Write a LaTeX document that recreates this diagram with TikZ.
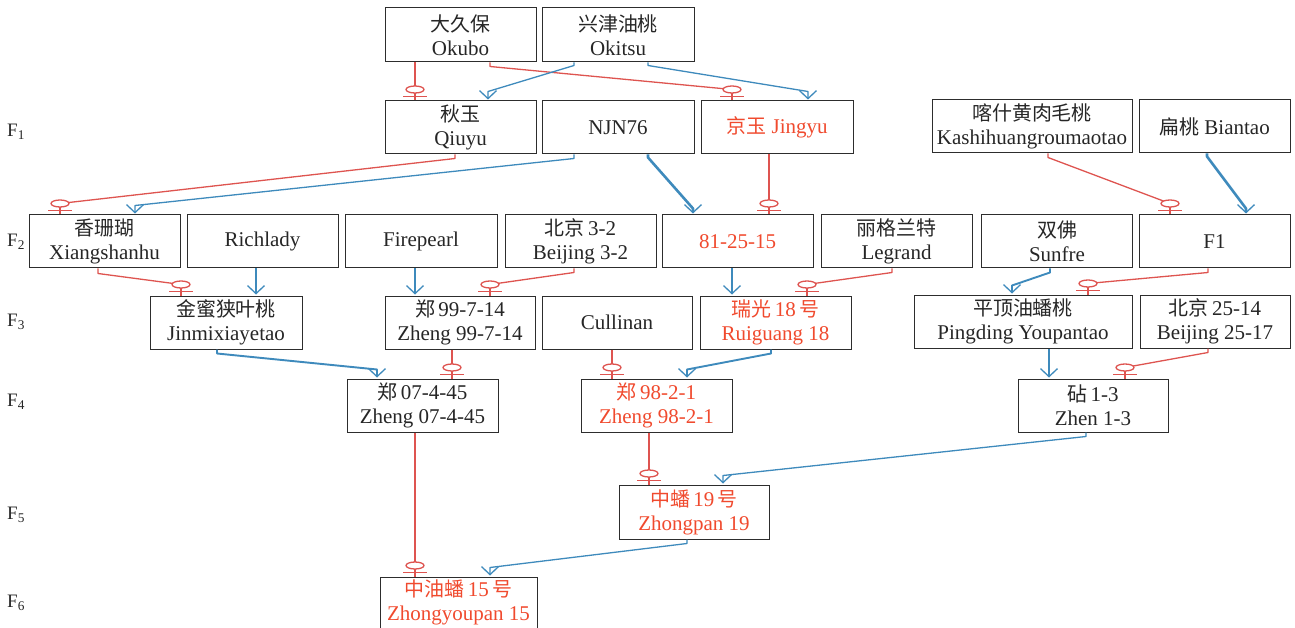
\documentclass[tikz,border=0pt]{standalone}
\usepackage{fontspec}
\setmainfont{Liberation Serif}
\newfontfamily\cjk[Scale=0.95]{Noto Sans CJK SC}
\usetikzlibrary{arrows.meta,calc}
\definecolor{lred}{RGB}{222,84,80}
\definecolor{tred}{RGB}{240,74,46}
\definecolor{lblue}{RGB}{62,138,188}
\definecolor{boxc}{RGB}{45,45,45}
\tikzset{
  box/.style={draw=boxc,line width=1pt,inner sep=0pt,align=center,text=black!85,
    minimum width=151pt,minimum height=53pt,font=\fontsize{21}{24}\selectfont},
  redtxt/.style={text=tred},
  rthick/.style={draw=lred,line width=2.6pt},
  rthin/.style={draw=lred,line width=1.3pt,line join=round},
  bthick/.style={draw=lblue,line width=2.6pt,line join=round},
  bmid/.style={draw=lblue,line width=1.9pt,line join=round},
  bthin/.style={draw=lblue,line width=1.3pt,line join=round},
  male/.style={-{Straight Barb[length=8pt,width=17pt,line width=1.3pt]}},
  glabel/.style={anchor=west,inner sep=0pt,text=black!85,font=\fontsize{19}{22}\selectfont}
}
\newcommand\fem[2]{%
  \coordinate (ft) at (#1,0 |- #2.north);
  \draw[rthin,fill=white] ($(ft)+(0,-11)$) ellipse [x radius=9pt,y radius=3.5pt];
  \draw[rthin] ($(ft)+(0,-7.5)$) -- (ft);
  \draw[draw=lred,line width=0.8pt] ($(ft)+(-12,-4)$) -- ($(ft)+(12,-4)$);
}
\begin{document}
\begin{tikzpicture}[x=1pt,y=-1pt]
\useasboundingbox (0,0) rectangle (1295,628);
% generation labels
\node[glabel] (lf1) at (7,132) {F\textsubscript{1}};
\node[glabel] (lf2) at (7,242) {F\textsubscript{2}};
\node[glabel] (lf3) at (7,322) {F\textsubscript{3}};
\node[glabel] (lf4) at (7,402) {F\textsubscript{4}};
\node[glabel] (lf5) at (7,515) {F\textsubscript{5}};
\node[glabel] (lf6) at (7,603) {F\textsubscript{6}};
% row 0
\node[box,minimum height=54pt] (okubo) at (460.5,35) {{\cjk 大久保}\\Okubo};
\node[box,minimum height=54pt,minimum width=152pt] (okitsu) at (618,35) {{\cjk 兴津油桃}\\Okitsu};
% F1
\node[box] (qiuyu) at (460.5,127.5) {{\cjk 秋玉}\\Qiuyu};
\node[box,minimum width=152pt] (njn) at (618,127.5) {NJN76};
\node[box,redtxt,minimum width=152pt] (jingyu) at (777,127.5) {{\cjk 京玉} Jingyu};
\node[box,minimum width=200pt] (kashi) at (1032,126.5) {{\cjk 喀什黄肉毛桃}\\Kashihuangroumaotao};
\node[box] (biantao) at (1214.5,126.5) {{\cjk 扁桃} Biantao};
% F2
\node[box] (xiang) at (104.5,241.5) {{\cjk 香珊瑚}\\Xiangshanhu};
\node[box] (rich) at (262.5,241.5) {Richlady};
\node[box,minimum width=152pt] (fire) at (421,241.5) {Firepearl};
\node[box] (bj32) at (580.5,241.5) {{\cjk 北京}\,3-2\\Beijing 3-2};
\node[box,redtxt] (s812515) at (737.5,241.5) {81-25-15};
\node[box] (legrand) at (896.5,241.5) {{\cjk 丽格兰特}\\Legrand};
\node[box] (sunfre) at (1057,241.5) {{\cjk 双佛}\\Sunfre};
\node[box] (f1) at (1214.5,241.5) {F1};
% F3
\node[box,minimum width=152pt] (jinmi) at (226,322.5) {{\cjk 金蜜狭叶桃}\\Jinmixiayetao};
\node[box,minimum width=150pt] (zheng99) at (460,322.5) {{\cjk 郑}\,99-7-14\\Zheng 99-7-14};
\node[box,minimum width=150pt] (cullinan) at (617,322.5) {Cullinan};
\node[box,redtxt] (ruiguang) at (775.5,322.5) {{\cjk 瑞光}\,18\,{\cjk 号}\\Ruiguang 18};
\node[box,minimum width=218pt] (pingding) at (1023,321.5) {{\cjk 平顶油蟠桃}\\Pingding Youpantao};
\node[box,minimum width=150pt] (bj2514) at (1215,321.5) {{\cjk 北京}\,25-14\\Beijing 25-17};
% F4
\node[box] (zheng07) at (422.5,405.5) {{\cjk 郑}\,07-4-45\\Zheng 07-4-45};
\node[box,redtxt] (zheng98) at (656.5,405.5) {{\cjk 郑}\,98-2-1\\Zheng 98-2-1};
\node[box,minimum width=150pt] (zhen13) at (1093,405.5) {{\cjk 砧}\,1-3\\Zhen 1-3};
% F5
\node[box,redtxt,minimum width=150pt,minimum height=54pt] (zhongpan) at (694,512) {{\cjk 中蟠}\,19\,{\cjk 号}\\Zhongpan 19};
% F6
\node[box,redtxt,minimum width=157pt,minimum height=51pt] (zhongyou) at (458.5,602.5) {{\cjk 中油蟠}\,15\,{\cjk 号}\\Zhongyoupan 15};

% ---- maternal (red) connectors
\draw[rthick] (415,0 |- okubo.south) -- (415,0 |- qiuyu.north); \fem{415}{qiuyu}
\draw[rthin] (490,0 |- okubo.south) -- ++(0,4) -- ($(732,0 |- jingyu.north)+(0,-11)$); \fem{732}{jingyu}
\draw[rthin] (455,0 |- qiuyu.south) -- ++(0,4) -- ($(60,0 |- xiang.north)+(0,-11)$); \fem{60}{xiang}
\draw[rthick] (769,0 |- jingyu.south) -- (769,0 |- s812515.north); \fem{769}{s812515}
\draw[rthin] (1048,0 |- kashi.south) -- ++(0,4) -- ($(1170,0 |- f1.north)+(0,-11)$); \fem{1170}{f1}
\draw[rthin] (98,0 |- xiang.south) -- ++(0,5) -- ($(181,0 |- jinmi.north)+(0,-11)$); \fem{181}{jinmi}
\draw[rthin] (574,0 |- bj32.south) -- ++(0,4) -- ($(490,0 |- zheng99.north)+(0,-11)$); \fem{490}{zheng99}
\draw[rthin] (892,0 |- legrand.south) -- ++(0,4) -- ($(807,0 |- ruiguang.north)+(0,-11)$); \fem{807}{ruiguang}
\draw[rthin] (1208,0 |- f1.south) -- ++(0,4) -- ($(1088,0 |- pingding.north)+(0,-11)$); \fem{1088}{pingding}
\draw[rthick] (452,0 |- zheng99.south) -- (452,0 |- zheng07.north); \fem{452}{zheng07}
\draw[rthick] (612,0 |- cullinan.south) -- (612,0 |- zheng98.north); \fem{612}{zheng98}
\draw[rthin] (1208,0 |- bj2514.south) -- ++(0,4) -- ($(1125,0 |- zhen13.north)+(0,-11)$); \fem{1125}{zhen13}
\draw[rthick] (649,0 |- zheng98.south) -- (649,0 |- zhongpan.north); \fem{649}{zhongpan}
\draw[rthick] (415,0 |- zheng07.south) -- (415,0 |- zhongyou.north); \fem{415}{zhongyou}

% ---- paternal (blue) connectors
\draw[bthin,male] (574,0 |- okitsu.south) -- ++(0,3) -- ($(488,0 |- qiuyu.north)+(0,-9)$) -- ($(488,0 |- qiuyu.north)+(0,-1)$);
\draw[bthin,male] (648,0 |- okitsu.south) -- ++(0,3) -- ($(808,0 |- jingyu.north)+(0,-9)$) -- ($(808,0 |- jingyu.north)+(0,-1)$);
\draw[bthin,male] (574,0 |- njn.south) -- ++(0,4) -- ($(135,0 |- xiang.north)+(0,-9)$) -- ($(135,0 |- xiang.north)+(0,-1)$);
\draw[bthick,male] (648,0 |- njn.south) -- ++(0,3) -- ($(693,0 |- s812515.north)+(0,-6)$) -- ($(693,0 |- s812515.north)+(0,-1)$);
\draw[bthick,male] (1207,0 |- biantao.south) -- ++(0,3) -- ($(1246,0 |- f1.north)+(0,-6)$) -- ($(1246,0 |- f1.north)+(0,-1)$);
\draw[bthick,male] (256,0 |- rich.south) -- ($(256,0 |- jinmi.north)+(0,-1)$);
\draw[bthick,male] (415,0 |- fire.south) -- ($(415,0 |- zheng99.north)+(0,-1)$);
\draw[bthick,male] (732,0 |- s812515.south) -- ($(732,0 |- ruiguang.north)+(0,-1)$);
\draw[bmid,male] (1050,0 |- sunfre.south) -- ++(0,4) -- ($(1012,0 |- pingding.north)+(0,-9)$) -- ($(1012,0 |- pingding.north)+(0,-1)$);
\draw[bmid,male] (217,0 |- jinmi.south) -- ++(0,4) -- ($(377,0 |- zheng07.north)+(0,-9)$) -- ($(377,0 |- zheng07.north)+(0,-1)$);
\draw[bmid,male] (771,0 |- ruiguang.south) -- ++(0,4) -- ($(687,0 |- zheng98.north)+(0,-9)$) -- ($(687,0 |- zheng98.north)+(0,-1)$);
\draw[bthick,male] (1049,0 |- pingding.south) -- ($(1049,0 |- zhen13.north)+(0,-1)$);
\draw[bthin,male] (1086,0 |- zhen13.south) -- ++(0,4) -- ($(723,0 |- zhongpan.north)+(0,-9)$) -- ($(723,0 |- zhongpan.north)+(0,-1)$);
\draw[bthin,male] (687,0 |- zhongpan.south) -- ++(0,4) -- ($(490,0 |- zhongyou.north)+(0,-9)$) -- ($(490,0 |- zhongyou.north)+(0,-1)$);
\end{tikzpicture}
\end{document}
